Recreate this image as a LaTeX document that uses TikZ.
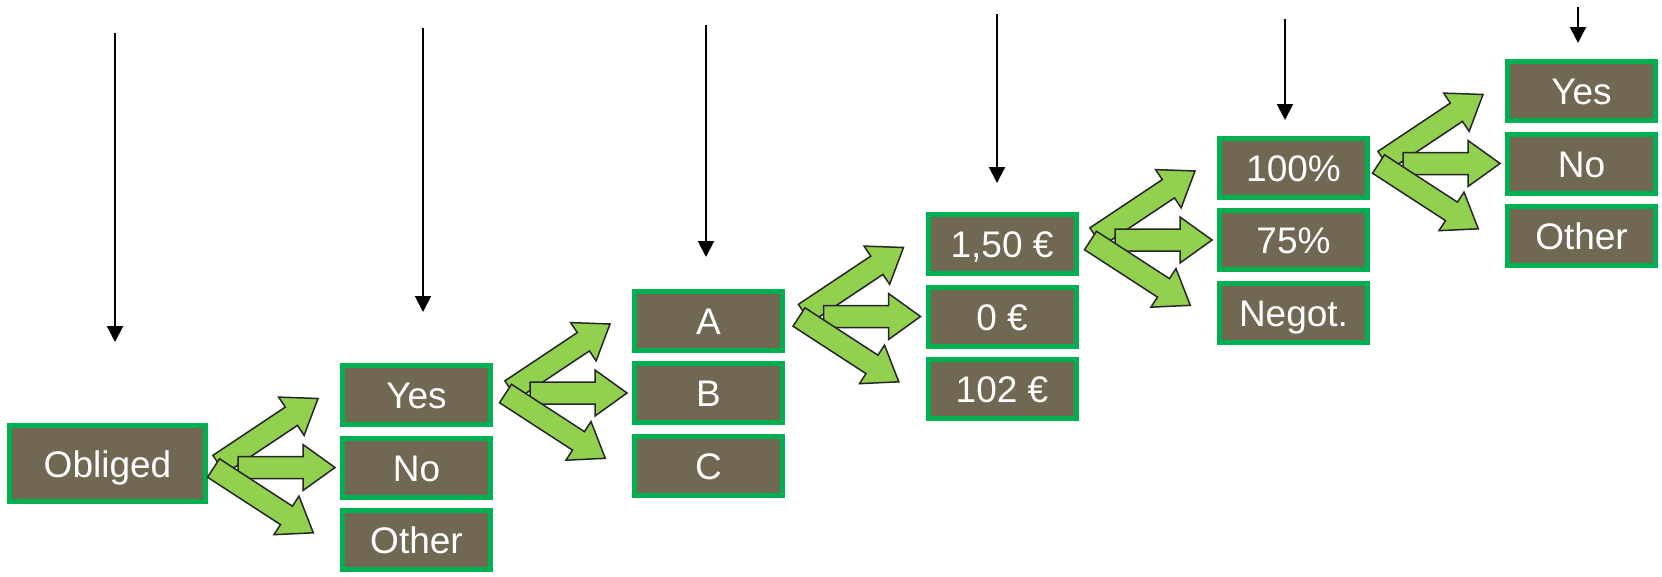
\documentclass[tikz,border=0pt]{standalone}
\usepackage{fontspec}
\setmainfont{Liberation Sans}
\usetikzlibrary{positioning}
\usetikzlibrary{arrows.meta}

\definecolor{boxbrown}{RGB}{113,104,84}
\definecolor{boxgreen}{RGB}{0,176,80}
\definecolor{forkgreen}{RGB}{146,208,80}

\tikzset{
    choice/.style={draw=boxgreen, line width=5pt, fill=boxbrown, text=white,
        minimum width=148pt, minimum height=59pt, inner sep=0pt,
        text height=27pt, text depth=0pt, font=\fontsize{37}{41}\selectfont},
    drop/.style={line width=2pt, -{Triangle[width=16pt,length=16pt]}},
    blockarrow/.style={draw=black!85, line width=1.5pt, fill=forkgreen, line join=miter},
    fork/.pic={
        % upper branch
        \draw[blockarrow, shift={(-121,-3)}, rotate=33.7]
            (0,-11) -- (87,-11) -- (87,-23) -- (119,0) -- (87,23) -- (87,11) -- (0,11) -- cycle;
        % straight branch
        \draw[blockarrow, shift={(-102,0)}]
            (0,-11) -- (65,-11) -- (65,-23) -- (97,0) -- (65,23) -- (65,11) -- (0,11) -- cycle;
        % lower branch
        \draw[blockarrow, shift={(-126.5,0.5)}, rotate=-33]
            (0,-11) -- (87,-11) -- (87,-23) -- (119,0) -- (87,23) -- (87,11) -- (0,11) -- cycle;
    }
}

\begin{document}
\begin{tikzpicture}[x=1pt, y=-1pt, node distance=8.5pt]
    \useasboundingbox (0,0) rectangle (1662,576);

    % first step
    \node[choice, minimum width=196pt, minimum height=76pt] (obliged) at (107.5,463.5) {Obliged};

    % answers
    \node[choice] (yes1) at (416.5,395) {Yes};
    \node[choice, below=of yes1] (no1) {No};
    \node[choice, below=of no1] (other1) {Other};

    % classes
    \node[choice] (a) at (708.5,320.5) {A};
    \node[choice, below=of a] (b) {B};
    \node[choice, below=of b] (c) {C};

    % prices
    \node[choice] (eur150) at (1002,244) {1,50 €};
    \node[choice, below=of eur150] (eur0) {0 €};
    \node[choice, below=of eur0] (eur102) {102 €};

    % shares
    \node[choice] (pct100) at (1293.5,167.5) {100\%};
    \node[choice, below=of pct100] (pct75) {75\%};
    \node[choice, below=of pct75] (negot) {Negot.};

    % last step
    \node[choice] (yes2) at (1581.5,91) {Yes};
    \node[choice, below=of yes2] (no2) {No};
    \node[choice, below=of no2] (other2) {Other};

    % green forks
    \pic at (no1.west) {fork};
    \pic at (b.west) {fork};
    \pic at (eur0.west) {fork};
    \pic at (pct75.west) {fork};
    \pic at (no2.west) {fork};

    % arrows from above
    \foreach \i/\x/\ya/\yb in {1/115/33/342, 2/423/28/312, 3/706/25/257,
                               4/997/14/183, 5/1285/19/120, 6/1578/7/43} {
        \coordinate (from\i) at (\x,\ya);
        \coordinate (to\i) at (\x,\yb);
        \draw[drop] (from\i) -- (to\i);
    }
\end{tikzpicture}
\end{document}
